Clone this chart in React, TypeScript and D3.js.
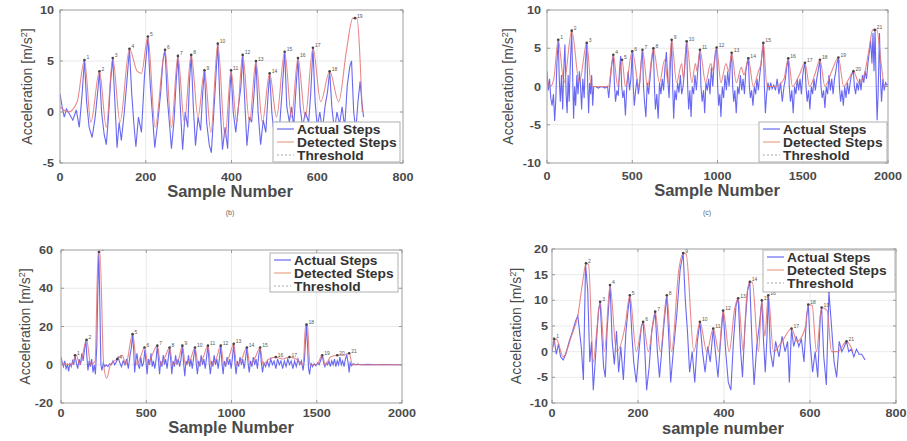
import React from "react";
import * as d3 from "d3";

// four step-detection panels, MATLAB style

type Pt = [number, number];

// ---- panel (b): top left ----
const bActual: Pt[] = [[0,1.8],[5,0.5],[10,-0.5],[15,0.3],[22,-0.2],[30,-0.8],[38,0.2],[45,-1.5],[52,2],[57,5.1],[62,1],[68,-1.5],[75,-2.5],[82,-0.5],[88,2],[92,4.0],[97,0],[103,-2.2],[108,-3.2],[113,-0.5],[118,3],[123,5.3],[128,1],[133,-3.5],[138,-1],[143,-2.8],[150,0],[156,3],[162,6.2],[167,2],[172,-1],[177,-3.4],[183,-0.5],[190,-2],[197,3.5],[205,7.4],[210,3],[216,-0.5],[221,-3.5],[228,-1],[235,2],[240,5],[245,6.1],[250,1.5],[255,-1],[260,-3.6],[266,-0.8],[271,3],[275,5.5],[280,1],[286,-3.7],[292,0],[298,-1.5],[302,3],[306,5.6],[311,0.5],[316,-3.3],[322,-0.5],[328,-1.8],[333,2],[337,4.1],[342,-1],[348,-3.2],[353,-4],[358,-0.5],[363,3],[368,6.7],[373,1],[379,-3.7],[385,-1.5],[391,-3.6],[395,1],[399,4.1],[404,0],[410,-2],[416,0.5],[422,2.5],[426,5.6],[431,1],[436,-3.3],[442,-0.5],[447,-1],[453,2],[457,5.0],[462,0],[468,-3.2],[474,-0.8],[480,-2],[485,1.5],[489,3.8],[494,0],[500,-2.5],[506,-1],[512,-1.5],[518,2],[524,5.9],[529,0.5],[535,-1],[540,0.5],[545,-1.5],[550,2],[555,5.3],[560,0.5],[566,-1.5],[572,0],[580,-1],[585,2],[590,6.3],[595,1],[600,-1.5],[606,0],[612,-1.8],[618,0.5],[624,2],[629,4.0],[634,0.5],[640,-1.8],[646,0],[652,-1.2],[658,0.5],[664,-1.5],[670,2.6],[676,4.5],[680,5],[685,0],[690,-1.8],[695,1],[700,3],[704,1],[708,-0.5]];
const bDetected: Pt[] = [[0,0.5],[20,0],[40,1],[57,5.1],[72,-1],[92,4.0],[108,-1.5],[123,5.3],[140,-1],[162,6.2],[180,4],[190,3.8],[205,7.4],[222,-1.5],[245,6.1],[260,-1.5],[275,5.5],[290,-1],[306,5.6],[322,-0.5],[337,4.1],[352,-2],[368,6.7],[385,-2.5],[399,4.1],[412,-1],[426,5.6],[442,-1],[457,5.0],[472,-1],[489,3.8],[505,-0.5],[524,5.9],[540,-0.5],[555,5.3],[572,-0.5],[590,6.3],[608,1],[629,4.0],[650,1],[668,6],[683,9.2],[692,9.2],[705,0]];
const bPeaks: Pt[] = [[57,5.1],[92,4.0],[123,5.3],[162,6.2],[205,7.4],[245,6.1],[275,5.5],[306,5.6],[337,4.1],[368,6.7],[399,4.1],[426,5.6],[457,5.0],[489,3.8],[524,5.9],[555,5.3],[590,6.3],[629,4.0],[688,9.2]];

// ---- panel (c): top right ----
const cActual: Pt[] = [[0,2],[8,-0.5],[15,1],[22,-1.5],[30,-2.5],[38,-1],[45,-4.5],[52,-1.5],[58,3],[66,6.1],[72,1],[78,-2],[85,1.5],[92,-3],[98,2],[105,5.5],[112,-1],[118,-3.5],[124,1.5],[130,-2],[137,3],[145,7.3],[150,2],[156,-4.2],[162,0],[168,-2.5],[175,1.5],[182,-1],[190,2],[197,0],[203,-3],[210,1],[218,-1.5],[225,3],[233,5.7],[238,1],[244,-3.5],[250,0.5],[256,-1],[262,1.5],[268,-2.5],[274,0],[285,0],[300,-0.2],[320,0],[340,-0.2],[355,0],[362,-1.5],[370,0.5],[378,2.5],[389,4.15],[395,0.5],[402,-2],[410,-0.5],[418,-1.2],[425,2],[432,4],[438,0],[445,-1.5],[452,-0.5],[460,-3.8],[468,0],[476,2],[484,-0.5],[492,1],[500,4.6],[506,0],[512,-2.5],[520,-0.5],[528,1],[536,-1],[544,0.5],[552,3],[560,4.8],[566,0],[572,-2],[580,-4],[588,0.5],[596,-1],[604,1],[612,3],[624,5.0],[630,0],[636,-3],[644,-1],[652,-4.2],[660,0.5],[668,-1],[676,1],[684,-0.5],[692,2.5],[700,4.5],[708,1],[716,-1.5],[724,3],[731,6.1],[737,0],[743,-4.2],[750,-0.5],[758,-1.8],[766,0.5],[774,-0.8],[782,1.5],[790,-1],[798,0],[806,2],[812,4],[819,5.9],[825,0],[831,-3],[838,-0.5],[845,-4],[852,0],[860,-1],[868,1.5],[876,-0.5],[884,2],[890,3.5],[897,4.8],[903,0],[910,-2],[918,-0.5],[925,-3.5],[932,0.5],[940,-0.5],[948,1],[956,-1],[964,2.5],[972,0],[980,3],[988,4.5],[995,5.1],[1001,0],[1007,-2.5],[1014,-1],[1020,-4],[1028,0],[1036,-1.5],[1044,1.5],[1052,-0.5],[1060,2],[1068,0],[1076,3],[1083,4.4],[1089,0],[1095,-2],[1102,-0.5],[1110,-3.5],[1118,0],[1126,-1],[1134,1.5],[1142,-0.5],[1150,1],[1158,-1],[1166,2],[1174,3],[1181,3.7],[1187,0],[1193,-1.5],[1200,-0.5],[1208,-2.5],[1216,0],[1224,-1],[1232,1],[1240,-0.5],[1248,1.5],[1256,3],[1262,4.5],[1269,5.7],[1275,0],[1281,-3.5],[1288,-1],[1296,0.5],[1304,-0.5],[1312,0.5],[1320,-0.3],[1330,0.2],[1340,-0.5],[1350,1],[1360,-1],[1370,0.5],[1380,-2],[1390,0],[1398,1],[1406,2.5],[1415,3.7],[1421,0],[1428,-2],[1436,-0.5],[1444,-3.5],[1452,0],[1460,-1],[1468,1],[1476,-0.5],[1484,1],[1492,-1],[1500,1.5],[1507,2.5],[1513,3.1],[1519,0],[1526,-2],[1534,-0.5],[1542,-3],[1550,0],[1558,-1],[1566,1],[1574,-0.5],[1582,1],[1590,2],[1601,3.5],[1607,0],[1614,-1.5],[1622,-0.5],[1630,-2.8],[1638,0],[1646,-1],[1654,1.5],[1662,-0.5],[1670,1],[1678,-1],[1686,1],[1694,2],[1700,3],[1709,3.8],[1715,0],[1722,-2],[1730,-0.5],[1738,-2.5],[1746,0],[1754,-1.5],[1762,0.5],[1770,-1],[1778,0.5],[1786,1.5],[1797,2.0],[1803,0],[1810,-1],[1818,0.5],[1826,-0.5],[1834,1],[1842,-0.5],[1850,1.5],[1858,0.5],[1866,2],[1874,1],[1882,3],[1890,4.5],[1898,6],[1906,3],[1912,7],[1918,2],[1924,7.4],[1930,1],[1936,-4.4],[1942,-1],[1950,7],[1956,1],[1962,-2],[1970,1],[1978,-0.5],[1986,0.5],[1994,0.2],[2000,0.3]];
const cDetected: Pt[] = [[0,1],[20,0],[40,1],[66,6.1],[100,0.5],[145,7.3],[190,0.5],[233,5.7],[260,0],[280,0],[360,0],[389,4.15],[415,0],[440,3.5],[460,0],[500,4.6],[540,0],[560,4.8],[590,0],[624,5.0],[660,0.5],[690,3.5],[710,0.5],[731,6.1],[760,0.5],[790,3],[800,1],[819,5.9],[850,0.5],[870,3],[880,2],[897,4.8],[930,0.5],[960,3],[975,2],[995,5.1],[1020,0.5],[1050,3],[1065,2],[1083,4.4],[1110,0.5],[1140,2.5],[1155,1.5],[1181,3.7],[1210,0],[1240,2],[1255,3],[1269,5.7],[1290,0],[1340,0],[1390,1],[1415,3.7],[1440,0],[1480,1.5],[1513,3.1],[1540,0],[1570,1.5],[1601,3.5],[1630,0],[1670,2],[1709,3.8],[1740,0],[1770,1],[1797,2.0],[1830,0.5],[1860,1.5],[1890,5],[1910,7.4],[1935,7.4],[1960,3],[1980,0],[2000,0]];
const cPeaks: Pt[] = [[66,6.1],[145,7.3],[233,5.7],[389,4.15],[440,3.5],[500,4.6],[560,4.8],[624,5.0],[731,6.1],[819,5.9],[897,4.8],[995,5.1],[1083,4.4],[1181,3.7],[1269,5.7],[1415,3.7],[1513,3.1],[1601,3.5],[1709,3.8],[1797,2.0],[1922,7.4]];

// ---- panel (d): bottom left ----
const dActual: Pt[] = [[0,4],[8,1],[15,-1],[22,2],[30,-2],[38,0],[45,-3.5],[52,1],[60,-1],[68,2],[75,0],[82,5],[90,1],[98,-2],[106,3],[114,0],[122,6],[130,2],[138,8],[146,13],[152,4],[158,-3],[165,2],[172,-1],[180,3],[188,-4],[195,0],[202,-5],[210,10],[216,40],[222,59],[228,30],[234,0],[240,-3],[248,1],[256,-1],[265,0],[275,-1],[285,0.5],[295,0],[305,2],[315,0],[325,1.5],[335,4],[345,1],[355,-1],[365,2],[375,0],[385,3],[395,-2],[405,5],[413,9],[420,16],[426,8],[432,-4],[438,2],[446,6],[452,0],[460,-2],[468,4],[476,-1],[484,1],[492,8],[498,2],[505,-5],[512,3],[520,0],[528,6],[535,-1],[542,2],[550,-2],[558,3],[565,10],[572,2],[578,-5],[585,2],[592,-1],[600,5],[607,0],[614,3],[622,-2],[630,4],[637,9],[644,2],[650,-5],[657,2],[665,-1],[672,5],[680,0],[688,3],[696,-1],[704,3],[712,10],[719,1],[726,-6],[733,2],[740,0],[748,5],[755,-1],[762,3],[770,-2],[778,4],[786,9],[793,1],[800,-5],[808,2],[815,-1],[822,5],[830,0],[838,3],[846,-2],[854,4],[862,10],[869,1],[876,-5],[884,2],[891,-1],[898,5],[906,0],[914,3],[922,-2],[930,4],[937,10],[944,1],[951,-5],[958,2],[966,-1],[974,4],[982,0],[990,3],[998,-2],[1006,4],[1013,11],[1020,1],[1027,-5],[1034,2],[1042,-1],[1050,4],[1058,0],[1066,3],[1074,-2],[1082,3],[1090,9],[1097,1],[1104,-4],[1112,2],[1120,-1],[1128,4],[1136,0],[1144,3],[1152,-2],[1160,5],[1168,9],[1175,1],[1182,-4],[1190,1],[1200,-1],[1210,2],[1220,-1],[1230,3],[1240,0],[1250,2],[1260,-2],[1270,3],[1280,0],[1290,2],[1300,-2],[1310,2],[1320,-1],[1330,3],[1340,0],[1350,2],[1360,-2],[1370,2],[1380,-1],[1390,3],[1400,0],[1410,2],[1420,-3],[1428,3],[1434,12],[1440,21],[1446,10],[1452,-2],[1458,-5],[1466,1],[1475,-1],[1485,0.5],[1495,-0.5],[1505,1],[1515,0],[1525,3],[1532,5],[1540,1],[1548,-1],[1556,1],[1564,0],[1572,2],[1580,-1],[1588,2],[1596,0],[1604,3],[1612,-1],[1620,2],[1628,0],[1636,4],[1644,0],[1652,2],[1660,-1],[1668,3],[1676,5],[1684,1],[1690,-4],[1696,1],[1704,-0.5],[1714,0.5],[1726,0],[1740,0.3],[1760,0],[1800,0.2],[1850,0],[1900,0.1],[1950,0],[2000,0]];
const dDetected: Pt[] = [[0,1],[60,0],[90,5],[110,0],[150,13],[175,0],[200,2],[218,59],[228,59],[250,0],[268,-7],[290,0],[330,3],[360,5],[380,0],[420,16],[445,0],[470,5],[490,9],[510,0],[530,4],[565,10],[585,0],[610,4],[637,9],[655,0],[690,3],[712,10],[730,0],[760,3],[786,9],[805,0],[835,4],[862,10],[880,0],[910,3],[937,10],[955,0],[985,4],[1013,11],[1030,0],[1060,3],[1090,9],[1108,0],[1140,4],[1168,9],[1185,0],[1220,3],[1260,4],[1300,3],[1340,4],[1380,3],[1420,0],[1435,21],[1445,21],[1460,0],[1500,0],[1532,5],[1550,0],[1580,4],[1620,5],[1660,5],[1690,6],[1710,0],[1800,0],[2000,0]];
const dPeaks: Pt[] = [[82,5],[150,13],[223,59],[330,3],[420,16],[490,9],[565,10],[637,9],[712,10],[786,9],[862,10],[937,10],[1013,11],[1090,9],[1168,9],[1260,4],[1340,4],[1440,21],[1532,5],[1620,5],[1690,6]];

// ---- panel (e): bottom right ----
const eActual: Pt[] = [[0,0],[5,2.5],[10,-0.5],[15,1.5],[20,-1],[26,-1.6],[32,-0.5],[40,2],[48,4],[55,6],[60,7],[64,4],[68,1],[73,-5.5],[78,17],[83,12],[88,-2],[92,2],[96,-7.5],[102,0],[108,8],[112,9.7],[116,3],[120,-3],[124,-5],[128,4],[135,13],[140,2],[145,-2.5],[150,4],[155,-4],[160,1],[166,-5.5],[172,4],[178,9],[181,11],[186,3],[190,-2],[196,-6],[202,0],[208,5],[212,5.8],[216,0],[220,-7.5],[226,-3],[232,4],[240,7.8],[245,0],[250,-5],[255,0],[260,5],[267,11],[272,2],[276,-6],[282,0],[290,7],[298,16],[305,19.2],[310,10],[315,4],[320,-4],[326,0],[332,-6],[338,2],[344,5.8],[350,0],[356,-4],[362,1],[368,-2],[375,4.5],[380,0],[386,-5],[392,2],[398,8],[404,0],[410,-6],[416,-7.5],[422,2],[428,9],[433,10.4],[438,1],[443,-5],[448,4],[455,12],[460,13.6],[465,2],[470,-6.5],[476,1],[482,5],[488,10],[492,2],[496,-4],[500,3],[503,11],[508,0],[514,-3],[520,2],[528,-1],[535,3],[542,0],[548,2],[552,-6],[557,4.5],[562,1],[568,3],[574,1],[580,2.5],[586,-2],[592,7],[596,9.2],[600,2],[606,-4],[612,0],[618,-5],[624,7],[627,8.6],[632,-1],[638,-6.5],[644,11.7],[650,5],[656,-2],[662,-5],[668,2],[674,0],[680,1],[685,2],[690,0],[696,0.5],[702,-1],[708,0.5],[714,-0.5],[720,-0.5],[728,-1.6]];
const eDetected: Pt[] = [[0,0.5],[10,2.5],[26,-1],[45,3],[60,7],[72,14],[79,17.2],[85,17],[96,-2],[105,5],[112,9.7],[122,0],[135,13],[150,0],[170,5],[181,11],[196,0],[212,5.8],[224,0],[240,7.8],[252,0],[267,11],[278,0],[295,16],[305,19.2],[312,19],[330,0],[344,5.8],[360,0],[375,4.5],[388,0],[398,8],[412,0],[425,8.5],[433,10.4],[445,0],[452,10],[460,13.6],[466,13.5],[480,0],[488,10],[495,3],[503,11],[515,0],[535,2],[557,4.5],[570,2],[590,5],[596,9.2],[605,9],[615,0],[627,8.6],[640,8],[650,0],[665,0],[685,2.0],[700,0]];
const ePeaks: Pt[] = [[5,2.5],[79,17.2],[112,9.7],[135,13],[181,11],[212,5.8],[240,7.8],[267,11],[305,19.2],[344,5.8],[375,4.5],[398,8],[433,10.4],[460,13.6],[488,10],[503,11],[557,4.5],[596,9.2],[627,8.6],[644,11.7],[685,2.0]];

const ticks800 = [0, 200, 400, 600, 800];
const ticks2000 = [0, 500, 1000, 1500, 2000];

const legendNames = ["Actual Steps", "Detected Steps", "Threshold"];

const BLUE = "#4d4df0";
const RED = "#e57373";
const TEXT = "#4a4a4a";
const FONT = "'Liberation Sans', Arial, sans-serif";

const panels = [
  { id: "b", actual: bActual, detected: bDetected, peaks: bPeaks, xDomain: [0, 800], yDomain: [-5, 10], xTicks: ticks800, yTicks: [-5, 0, 5, 10],
    box: [60, 403, 10, 163], legend: [273, 122, 127, 40], xLabel: "Sample Number", xLabelPos: [230, 197], yLabelX: 32, caption: "(b)", captionPos: [230, 215], yTickGap: 6, xTickDy: 18 },
  { id: "c", actual: cActual, detected: cDetected, peaks: cPeaks, xDomain: [0, 2000], yDomain: [-10, 10], xTicks: ticks2000, yTicks: [-10, -5, 0, 5, 10],
    box: [547, 888, 10, 163], legend: [759, 122, 128, 40], xLabel: "Sample Number", xLabelPos: [717, 196], yLabelX: 513, caption: "(c)", captionPos: [707, 215], yTickGap: 6, xTickDy: 17 },
  { id: "d", actual: dActual, detected: dDetected, peaks: dPeaks, xDomain: [0, 2000], yDomain: [-20, 60], xTicks: ticks2000, yTicks: [-20, 0, 20, 40, 60],
    box: [61, 402, 250, 403], legend: [270, 253, 128, 39], xLabel: "Sample Number", xLabelPos: [231, 433], yLabelX: 30, caption: "", captionPos: [0, 0], yTickGap: 8, xTickDy: 14 },
  { id: "e", actual: eActual, detected: eDetected, peaks: ePeaks, xDomain: [0, 800], yDomain: [-10, 20], xTicks: ticks800, yTicks: [-10, -5, 0, 5, 10, 15, 20],
    box: [552, 896, 249, 403], legend: [763, 250, 132, 42], xLabel: "sample number", xLabelPos: [723, 434], yLabelX: 521, caption: "", captionPos: [0, 0], yTickGap: 4, xTickDy: 14 },
];

function Panel({ p }: { p: any }) {
  const [l, r, t, b] = p.box;
  const x = d3.scaleLinear().domain(p.xDomain).range([l, r]);
  const y = d3.scaleLinear().domain(p.yDomain).range([b, t]);
  const raw = d3.line<Pt>().x(d => x(d[0])).y(d => y(d[1]));
  const smooth = d3.line<Pt>().x(d => x(d[0])).y(d => y(d[1])).curve(d3.curveMonotoneX);
  const [lx, ly, lw, lh] = p.legend;
  const midY = (t + b) / 2;
  // peak labels hidden behind the legend box are not drawn
  const visiblePeaks = p.peaks
    .map((d: Pt, i: number) => ({ d, n: i + 1 }))
    .filter(({ d }: { d: Pt }) => {
      const px = x(d[0]), py = y(d[1]);
      return !(px > lx - 8 && px < lx + lw && py > ly - 4 && py < ly + lh + 2);
    });
  return (
    <g>
      <defs>
        <clipPath id={"clip-" + p.id}>
          <rect x={l} y={t} width={r - l} height={b - t} />
        </clipPath>
      </defs>
      <rect x={l} y={t} width={r - l} height={b - t} fill="#fff" />
      {p.xTicks.map((v: number) => (
        <line key={"gx" + v} x1={x(v)} x2={x(v)} y1={t} y2={b} stroke="#e4e4e4" strokeWidth={0.8} />
      ))}
      {p.yTicks.map((v: number) => (
        <line key={"gy" + v} x1={l} x2={r} y1={y(v)} y2={y(v)} stroke="#e4e4e4" strokeWidth={0.8} />
      ))}
      <g clipPath={`url(#clip-${p.id})`}>
        <path d={raw(p.actual) || ""} fill="none" stroke={BLUE} strokeWidth={1.1} strokeOpacity={0.85} />
        <path d={smooth(p.detected) || ""} fill="none" stroke={RED} strokeWidth={1.1} strokeOpacity={0.85} />
        {p.peaks.map((d: Pt, i: number) => (
          <circle key={"pc" + i} cx={x(d[0])} cy={y(d[1])} r={1.3} fill="#444" />
        ))}
        {visiblePeaks.map(({ d, n }: { d: Pt; n: number }) => (
          <text key={"pk" + n} x={x(d[0]) + 2} y={y(d[1]) - 0.5} fontSize={5} fill="#555" fontFamily={FONT}>{n}</text>
        ))}
      </g>
      <rect x={l} y={t} width={r - l} height={b - t} fill="none" stroke="#a8a8a8" strokeWidth={1} />
      {p.xTicks.map((v: number) => (
        <g key={"tx" + v}>
          <line x1={x(v)} x2={x(v)} y1={b} y2={b - 3} stroke="#999" />
          <line x1={x(v)} x2={x(v)} y1={t} y2={t + 3} stroke="#999" />
          <text transform={`translate(${x(v)},${b + p.xTickDy}) scale(1.2,1)`} textAnchor="middle" fontSize={10.5} fontWeight="bold" fill={TEXT} fontFamily={FONT}>{v}</text>
        </g>
      ))}
      {p.yTicks.map((v: number) => (
        <g key={"ty" + v}>
          <line x1={l} x2={l + 3} y1={y(v)} y2={y(v)} stroke="#999" />
          <line x1={r} x2={r - 3} y1={y(v)} y2={y(v)} stroke="#999" />
          <text transform={`translate(${l - p.yTickGap},${y(v) + 4}) scale(1.2,1)`} textAnchor="end" fontSize={10.5} fontWeight="bold" fill={TEXT} fontFamily={FONT}>{v}</text>
        </g>
      ))}
      <text x={p.xLabelPos[0]} y={p.xLabelPos[1]} textAnchor="middle" fontSize={16.5} fontWeight="bold" fill={TEXT} fontFamily={FONT}>{p.xLabel}</text>
      <text transform={`translate(${p.yLabelX},${midY}) rotate(-90)`} textAnchor="middle" fontSize={14} fill={TEXT} fontFamily={FONT}>
        Acceleration [m/s<tspan fontSize={9} dy={-5}>2</tspan><tspan dy={5}>]</tspan>
      </text>
      {p.caption && (
        <text x={p.captionPos[0]} y={p.captionPos[1]} textAnchor="middle" fontSize={7} fill="#666" fontFamily={FONT}>{p.caption}</text>
      )}
      <g>
        <rect x={lx} y={ly} width={lw} height={lh} fill="#fff" stroke="#b0b0b0" strokeWidth={1} />
        {legendNames.map((name, i) => {
          const cy = ly + 7 + i * 13;
          const stroke = i === 0 ? BLUE : i === 1 ? "#e39070" : "#aaa";
          return (
            <g key={name}>
              <line x1={lx + 4} x2={lx + 21} y1={cy} y2={cy} stroke={stroke} strokeWidth={1} strokeDasharray={i === 2 ? "2,2" : undefined} />
              <text transform={`translate(${lx + 24},${cy + 4.5}) scale(1.15,1)`} fontSize={12} fontWeight="bold" fill="#333" fontFamily={FONT}>{name}</text>
            </g>
          );
        })}
      </g>
    </g>
  );
}

export default function App() {
  return (
    <svg width={907} height={441} style={{ position: "absolute", left: 0, top: 0, background: "#fff" }}>
      <rect width={907} height={441} fill="#fff" />
      {panels.map(p => <Panel key={p.id} p={p} />)}
    </svg>
  );
}
